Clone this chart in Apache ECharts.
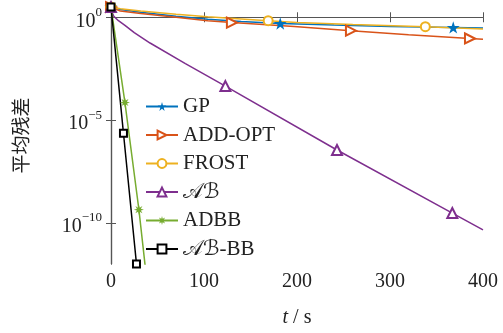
<!DOCTYPE html>
<html><head><meta charset="utf-8">
<script src="https://cdn.jsdelivr.net/npm/echarts@6/dist/echarts.min.js"></script>
<style>html,body{margin:0;padding:0;background:#fff}#c{width:503px;height:333px}</style>
</head><body><div id="c"></div>
<script>
// ---- data (time in s, mean residual) ----
const xTicks = [0, 100, 200, 300, 400];
const yTickExp = [-10, -5, 0];

const tGP = [0, 10, 32, 70, 104, 140, 182, 240, 300, 368, 400];
const rGP = [3.16, 2.40, 1.74, 1.12, 0.81, 0.63, 0.50, 0.42, 0.36, 0.32, 0.30];
const mGP = [0, 6, 9];

const tADD = [0, 10, 32, 70, 104, 130, 197, 258, 320, 386, 400];
const rADD = [3.16, 2.0, 1.51, 1.0, 0.68, 0.55, 0.355, 0.224, 0.141, 0.093, 0.085];
const mADD = [0, 5, 7, 9];

const tFROST = [0, 10, 32, 70, 104, 140, 169, 200, 260, 338, 400];
const rFROST = [3.16, 2.63, 2.04, 1.41, 1.05, 0.83, 0.68, 0.56, 0.45, 0.35, 0.27];
const mFROST = [0, 6, 9];

const tAB = [0, 1, 3, 8, 15, 25, 42, 80, 123, 243, 367, 400];
const rAB = [3.16, 1.78, 1.12, 0.68, 0.40, 0.178, 0.056, 5.6e-3, 4.5e-4, 3.5e-7, 3.0e-10, 4.6e-11];
const mAB = [0, 8, 9, 10];

const tADBB = [0, 15, 30, 37];
const rADBB = [3.16, 7.1e-5, 4.4e-10, 6.3e-13];
const mADBB = [0, 1, 2];

const tABBB = [0, 13.4, 27.4];
const rABBB = [3.16, 2.3e-6, 1.0e-12];
const mABBB = [0, 1, 2];

const names = ['GP', 'ADD-OPT', 'FROST', '\u{1D49C}\u212C', 'ADBB', '\u{1D49C}\u212C-BB'];

// ---- chart ----
const serif = "'Liberation Serif','DejaVu Serif','DejaVu Sans',serif";
const txt = '#222';
const axisCol = '#555';
const star = 'path://M50,0 L61,35 L98,35 L68,57 L79,91 L50,70 L21,91 L32,57 L2,35 L39,35 Z';
const asterisk = 'path://M50,0 L58,30 L85.4,14.6 L70,42 L100,50 L70,58 L85.4,85.4 L58,70 L50,100 L42,70 L14.6,85.4 L30,58 L0,50 L30,42 L14.6,14.6 L42,30 Z';

function mk(name, t, r, marks, color, symbol, size, rotate) {
  return {
    name: name, type: 'line',
    data: t.map((x, i) => [x, Math.log10(r[i])]),
    lineStyle: { color: color, width: 1.5 },
    itemStyle: { color: color, borderWidth: 1.5 },
    symbol: symbol, symbolRotate: rotate || 0, symbolKeepAspect: true,
    symbolSize: (v, p) => marks.includes(p.dataIndex) ? size : 0,
    showSymbol: true, showAllSymbol: true,
    clip: true, animation: false, silent: true
  };
}

const chart = echarts.init(document.getElementById('c'), null, { renderer: 'canvas' });
const yLab = {
  customValues: yTickExp,
  color: txt, fontFamily: serif, margin: 9,
  formatter: v => { const e = Math.round(v); return '{b|10}{s|' + (e < 0 ? '\u2212' + (-e) : e) + '}'; },
  rich: { b: { fontSize: 20, fontFamily: serif, color: txt, padding: [8, 0, 0, 0] }, s: { fontSize: 13, fontFamily: serif, color: txt, padding: [0, 0, 10, 0] } }
};
chart.setOption({
  backgroundColor: '#fff',
  grid: { left: 111, right: 20, top: 7, bottom: 66, show: false },
  legend: {
    data: names, orient: 'vertical', left: 145, top: 96, padding: 0,
    itemWidth: 32, itemHeight: 11, itemGap: 7.5,
    textStyle: { fontSize: 21, fontFamily: serif, color: txt }
  },
  xAxis: [{
    type: 'value', min: 0, max: 400, interval: 100, position: 'bottom',
    axisLine: { lineStyle: { color: axisCol, width: 1.2 } },
    axisTick: { inside: true, length: 5, lineStyle: { color: axisCol } },
    axisLabel: { fontSize: 20, fontFamily: serif, color: txt, margin: 8, showMaxLabel: true },
    splitLine: { show: false },
    name: '{i|t} / s', nameLocation: 'middle', nameGap: 44,
    nameTextStyle: { fontSize: 20, fontFamily: serif, color: txt, rich: { i: { fontStyle: 'italic', fontSize: 20, fontFamily: serif, color: txt } } }
  }, {
    type: 'value', min: 0, max: 400, interval: 100, position: 'top',
    axisLine: { lineStyle: { color: axisCol, width: 1.2 } },
    axisTick: { inside: true, length: 5, lineStyle: { color: axisCol } },
    axisLabel: { show: false }, splitLine: { show: false }
  }],
  yAxis: [{
    type: 'value', min: -12, max: 0.5, position: 'left',
    axisLine: { show: true, lineStyle: { color: axisCol, width: 1.2 } },
    axisTick: { show: true, inside: true, length: 5, customValues: yTickExp, lineStyle: { color: axisCol } },
    axisLabel: yLab, splitLine: { show: false },
    name: '平均残差', nameLocation: 'middle', nameRotate: 90, nameGap: 81,
    nameTextStyle: { fontSize: 19, fontFamily: "'Noto Sans CJK SC'", color: txt }
  }, {
    type: 'value', min: -12, max: 0.5, position: 'right',
    axisLine: { show: true, lineStyle: { color: axisCol, width: 1.2 } },
    axisTick: { show: true, inside: true, length: 5, customValues: yTickExp, lineStyle: { color: axisCol } },
    axisLabel: { show: false }, splitLine: { show: false }
  }],
  series: [
    mk(names[0], tGP, rGP, mGP, '#0072BD', star, 13),
    mk(names[1], tADD, rADD, mADD, '#D95319', 'emptyTriangle', 10, -90),
    mk(names[2], tFROST, rFROST, mFROST, '#EDB120', 'emptyCircle', 9),
    mk(names[3], tAB, rAB, mAB, '#7E2F8E', 'emptyTriangle', 10),
    mk(names[4], tADBB, rADBB, mADBB, '#77AC30', asterisk, 10),
    mk(names[5], tABBB, rABBB, mABBB, '#000000', 'emptyRect', 7)
  ]
});
</script></body></html>
